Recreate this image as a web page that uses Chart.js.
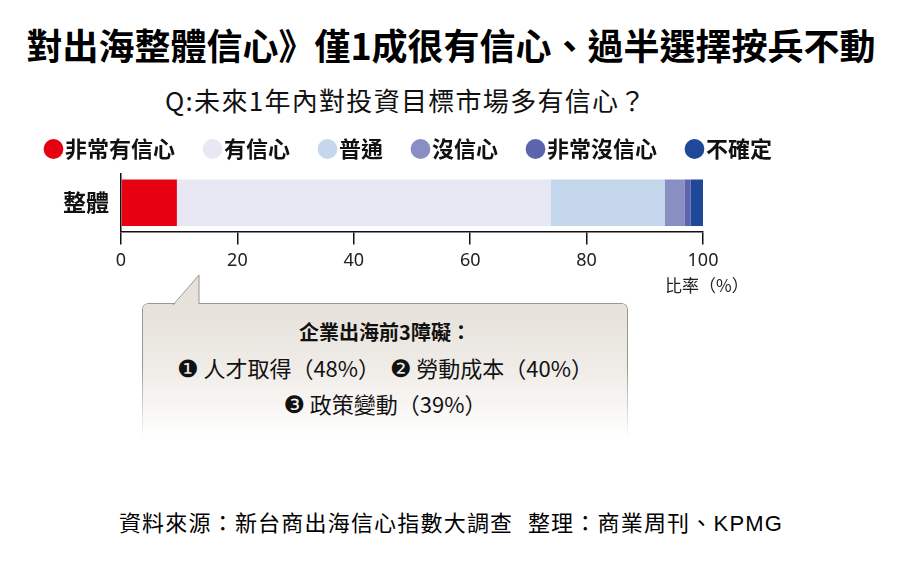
<!DOCTYPE html>
<html lang="zh-Hant">
<head>
<meta charset="utf-8">
<title>對出海整體信心</title>
<script src="https://cdn.jsdelivr.net/npm/chart.js@4/dist/chart.umd.min.js"></script>
<style>
  html,body{margin:0;padding:0;background:#fff;}
  body{width:902px;height:578px;position:relative;overflow:hidden;
       font-family:"Noto Sans CJK TC","Noto Sans",sans-serif;color:#111;}
  .abs{position:absolute;white-space:nowrap;}
  #title{left:0;width:902px;top:22px;text-align:center;font-size:36px;font-weight:700;line-height:44px;color:#000;}
  #sub{left:165px;top:83px;font-size:26px;line-height:34px;font-weight:400;letter-spacing:1.3px;color:#111;}
  #chartBox{left:0;top:90px;width:902px;height:188px;}
  #unit{left:665px;top:273px;font-size:17px;line-height:24px;font-family:"Noto Sans CJK TC",sans-serif;color:#222;}
  #callout{left:143px;top:304px;width:484px;height:134px;
           background:linear-gradient(#e6e1da 0%,#efebe6 45%,#fff 100%);border-radius:6px 6px 0 0;}
  #callout::before{content:"";position:absolute;inset:-1px;border:1px solid #9a958e;border-bottom:none;border-radius:6px 6px 0 0;
           -webkit-mask-image:linear-gradient(#000 45%,transparent 100%);mask-image:linear-gradient(#000 45%,transparent 100%);}
  #pointer{left:172px;top:274px;}
  .cl{position:absolute;left:0;width:484px;text-align:center;font-size:22px;line-height:30px;color:#111;}
  .num{font-family:"DejaVu Sans",sans-serif;font-size:24px;}
  #src{left:0;width:902px;top:509px;text-align:center;font-size:22px;line-height:30px;letter-spacing:1.2px;
       font-family:"Liberation Sans","Noto Sans CJK TC",sans-serif;color:#000;}
</style>
</head>
<body>
<div id="title" class="abs">對出海整體信心》僅1成很有信心、過半選擇按兵不動</div>
<div id="sub" class="abs">Q:未來1年內對投資目標市場多有信心？</div>
<div id="chartBox" class="abs"><canvas id="chart"></canvas></div>
<div id="unit" class="abs">比率（%）</div>

<div id="callout" class="abs">
  <div class="cl" style="top:13px;font-weight:700;font-size:20px;">企業出海前3障礙：</div>
  <div class="cl" style="top:48px;"><span class="num">❶</span> 人才取得（48%）&nbsp;&nbsp;<span class="num">❷</span> 勞動成本（40%）</div>
  <div class="cl" style="top:84px;"><span class="num">❸</span> 政策變動（39%）</div>
</div>
<svg id="pointer" class="abs" width="30" height="34" viewBox="0 0 30 34">
  <polygon points="1,32 27,1 27,32" fill="#e6e1da"/>
  <polyline points="1,31 27,1 27,30" fill="none" stroke="#9a958e" stroke-width="1"/>
</svg>

<div id="src" class="abs">資料來源：新台商出海信心指數大調查&nbsp;&nbsp;整理：商業周刊、KPMG</div>

<script>
// data (percent of respondents)
const categories = ['整體'];
const seriesNames = ['非常有信心', '有信心', '普通', '沒信心', '非常沒信心', '不確定'];
const veryConfident = [9.6];
const confident = [64.2];
const neutral = [19.6];
const notConfident = [3.4];
const veryNotConfident = [1.1];
const unsure = [2.1];
const xTicks = [0, 20, 40, 60, 80, 100];

const seriesValues = [veryConfident, confident, neutral, notConfident, veryNotConfident, unsure];
const colors = ['#e60012', '#e8e8f4', '#c4d7ec', '#8a8fc3', '#5b64ad', '#1f4898'];

const datasets = seriesNames.map((name, i) => ({
  label: name,
  data: seriesValues[i],
  backgroundColor: colors[i],
  borderWidth: 0,
  barPercentage: 0.81,
  categoryPercentage: 1
}));

// a little extra room under the legend
const legendGap = {
  id: 'legendGap',
  beforeInit(chart) {
    const fit = chart.legend.fit;
    chart.legend.fit = function () { fit.bind(chart.legend)(); this.height += 4; };
  }
};

new Chart(document.getElementById('chart'), {
  type: 'bar',
  data: { labels: categories, datasets },
  plugins: [legendGap],
  options: {
    indexAxis: 'y',
    responsive: true,
    maintainAspectRatio: false,
    animation: false,
    layout: { padding: { left: 16, top: 11, right: 0, bottom: 0 } },
    plugins: {
      legend: {
        display: true,
        position: 'top',
        align: 'start',
        labels: {
          usePointStyle: true,
          pointStyle: 'circle',
          boxWidth: 1,
          boxHeight: 14,
          padding: 37,
          color: '#111',
          font: { family: '"Noto Sans CJK TC", sans-serif', size: 22, weight: '700' }
        }
      },
      tooltip: { enabled: false }
    },
    scales: {
      x: {
        stacked: true,
        min: 0, max: 100,
        afterBuildTicks: s => { s.ticks = xTicks.map(v => ({ value: v })); },
        grid: { drawOnChartArea: false, drawTicks: true, tickLength: 13, color: '#111', lineWidth: 1.5 },
        border: { display: true, color: '#111', width: 1.5 },
        ticks: { padding: 6, color: '#222', font: { family: '"Noto Sans", sans-serif', size: 18 } }
      },
      y: {
        stacked: true,
        afterFit: s => { s.width = 105; },
        grid: { display: false, drawTicks: false },
        border: { display: true, color: '#111', width: 1.5 },
        ticks: { padding: 12, color: '#111', font: { family: '"Noto Sans CJK TC", sans-serif', size: 23, weight: '700' } }
      },
      yRight: {
        type: 'linear',
        position: 'right',
        display: true,
        afterFit: s => { s.width = 199; },
        grid: { display: false, drawTicks: false },
        border: { display: false },
        ticks: { display: false }
      }
    }
  }
});
</script>
</body>
</html>
